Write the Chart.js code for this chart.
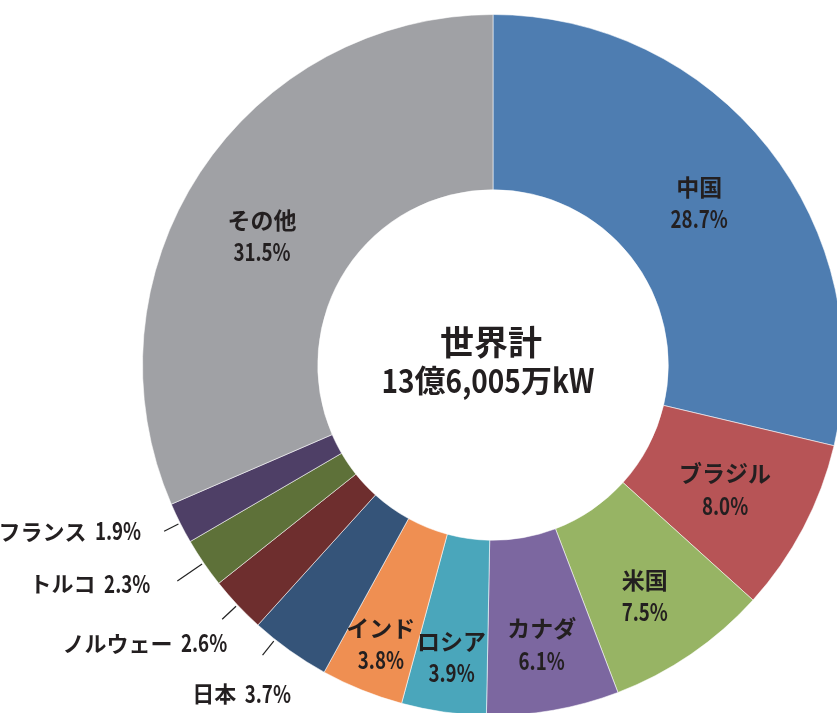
<!DOCTYPE html>
<html>
<head>
<meta charset="utf-8">
<script src="https://cdn.jsdelivr.net/npm/chart.js@4/dist/chart.umd.min.js"></script>
<style>
  html, body { margin: 0; padding: 0; background: #fff; width: 837px; height: 713px; overflow: hidden; }
  #wrap { position: absolute; left: 0; top: 0; width: 986px; height: 730px; }
</style>
</head>
<body>
<div id="wrap"><canvas id="hydroChart"></canvas></div>
<script>
// Installed hydro capacity share by country (%)
const countries = ['中国', 'ブラジル', '米国', 'カナダ', 'ロシア', 'インド', '日本', 'ノルウェー', 'トルコ', 'フランス', 'その他'];
const shares = [28.7, 8.0, 7.5, 6.1, 3.9, 3.8, 3.7, 2.6, 2.3, 1.9, 31.5];
const sliceColors = ['#4E7DB1', '#B75456', '#97B464', '#7C67A0', '#4AA6BB', '#EF8F52', '#355479', '#6E2E2E', '#5E7139', '#4E3F66', '#A0A1A5'];
const centerTitle = '世界計';
const centerTotal = '13億6,005万kW';

// label placement (layout only): inside labels get pushed outward / turned a bit,
// outside labels get a leader line and a text offset from the line end
const insideLayout = {
  '中国': { push: 0, turn: 0 },
  'ブラジル': { push: 0, turn: 0.3 },
  '米国': { push: 13, turn: 1 },
  'カナダ': { push: 20, turn: 0 },
  'ロシア': { push: 31, turn: 0 },
  'インド': { push: 37, turn: 0 },
  'その他': { push: 2, turn: -4 }
};
const outsideLayout = {
  '日本':     { len: 18, turn: 3, dx: -21, dy: 39, align: 'center' },
  'ノルウェー': { len: 19, turn: 0, dx: 5,   dy: 24, align: 'right' },
  'トルコ':    { len: 30, turn: 0, dx: -27, dy: 3,  align: 'right' },
  'フランス':  { len: 16, turn: 0, dx: -23, dy: 0,  align: 'right' }
};

const TEXT = '#231F20';
const DEG = Math.PI / 180;

// draw text whose latin runs (digits, %, letters) are squeezed horizontally
function drawMixed(ctx, text, x, y, align, cjkFont, latinFont, squeeze) {
  const runs = text.match(/[\x20-\x7E]+|[^\x20-\x7E]+/g);
  const parts = runs.map(s => {
    const latin = /^[\x20-\x7E]+$/.test(s);
    ctx.font = latin ? latinFont : cjkFont;
    const w = ctx.measureText(s).width * (latin ? squeeze : 1);
    return { s, latin, w };
  });
  const total = parts.reduce((a, p) => a + p.w, 0);
  let cx = align === 'center' ? x - total / 2 : align === 'right' ? x - total : x;
  ctx.textAlign = 'left';
  parts.forEach(p => {
    ctx.font = p.latin ? latinFont : cjkFont;
    ctx.save();
    ctx.translate(cx, y);
    if (p.latin) ctx.scale(squeeze, 1);
    ctx.fillText(p.s, 0, 0);
    ctx.restore();
    cx += p.w;
  });
}

const CJK_FONT = "bold 23px 'Noto Sans CJK JP', sans-serif";
const CJK_FONT_SMALL = "bold 22px 'Noto Sans CJK JP', sans-serif";
const NUM_FONT = "bold 24px 'Noto Sans CJK JP', sans-serif";
const SQUEEZE = 0.78;

const labelPlugin = {
  id: 'sliceLabels',
  afterDatasetsDraw(chart) {
    const ctx = chart.ctx;
    const arcs = chart.getDatasetMeta(0).data;
    ctx.save();
    ctx.fillStyle = TEXT;
    ctx.strokeStyle = '#222';
    ctx.lineWidth = 1.2;
    ctx.textBaseline = 'middle';

    arcs.forEach((arc, i) => {
      const p = arc.getProps(['x', 'y', 'startAngle', 'endAngle', 'innerRadius', 'outerRadius'], true);
      const name = countries[i];
      const pct = shares[i].toFixed(1) + '%';

      if (outsideLayout[name]) {
        const o = outsideLayout[name];
        const mid = (p.startAngle + p.endAngle) / 2 + o.turn * DEG;
        const r0 = p.outerRadius + 2;
        const r1 = r0 + o.len;
        const x0 = p.x + Math.cos(mid) * r0, y0 = p.y + Math.sin(mid) * r0;
        const x1 = p.x + Math.cos(mid) * r1, y1 = p.y + Math.sin(mid) * r1;
        ctx.beginPath();
        ctx.moveTo(x0, y0);
        ctx.lineTo(x1, y1);
        ctx.stroke();
        drawMixed(ctx, name + '  ' + pct, x1 + o.dx, y1 + o.dy, o.align, CJK_FONT_SMALL, NUM_FONT, SQUEEZE);
      } else {
        const o = insideLayout[name] || { push: 0, turn: 0 };
        const mid = (p.startAngle + p.endAngle) / 2 + o.turn * DEG;
        const r = (p.innerRadius + p.outerRadius) / 2 + o.push;
        const cx = p.x + Math.cos(mid) * r;
        const cy = p.y + Math.sin(mid) * r;
        drawMixed(ctx, name, cx, cy - 15, 'center', CJK_FONT, NUM_FONT, SQUEEZE);
        drawMixed(ctx, pct, cx, cy + 17, 'center', CJK_FONT, NUM_FONT, SQUEEZE);
      }
    });

    // total in the hole
    const c = arcs[0].getProps(['x', 'y'], true);
    drawMixed(ctx, centerTitle, c.x - 2, c.y - 23, 'center',
      "bold 34px 'Noto Sans CJK JP', sans-serif", "bold 34px 'Noto Sans CJK JP', sans-serif", 1);
    drawMixed(ctx, centerTotal, c.x - 5, c.y + 15, 'center',
      "bold 31px 'Noto Sans CJK JP', sans-serif", "bold 33px 'Noto Sans CJK JP', sans-serif", 0.85);
    ctx.restore();
  }
};

new Chart(document.getElementById('hydroChart'), {
  type: 'doughnut',
  data: {
    labels: countries,
    datasets: [{
      data: shares,
      backgroundColor: sliceColors,
      borderColor: 'rgba(255,255,255,0.55)',
      borderWidth: 1
    }]
  },
  options: {
    responsive: true,
    maintainAspectRatio: false,
    devicePixelRatio: 1,
    animation: false,
    cutout: '50%',
    layout: { padding: 14 },
    plugins: {
      legend: { display: false },
      tooltip: { enabled: false }
    }
  },
  plugins: [labelPlugin]
});
</script>
</body>
</html>
